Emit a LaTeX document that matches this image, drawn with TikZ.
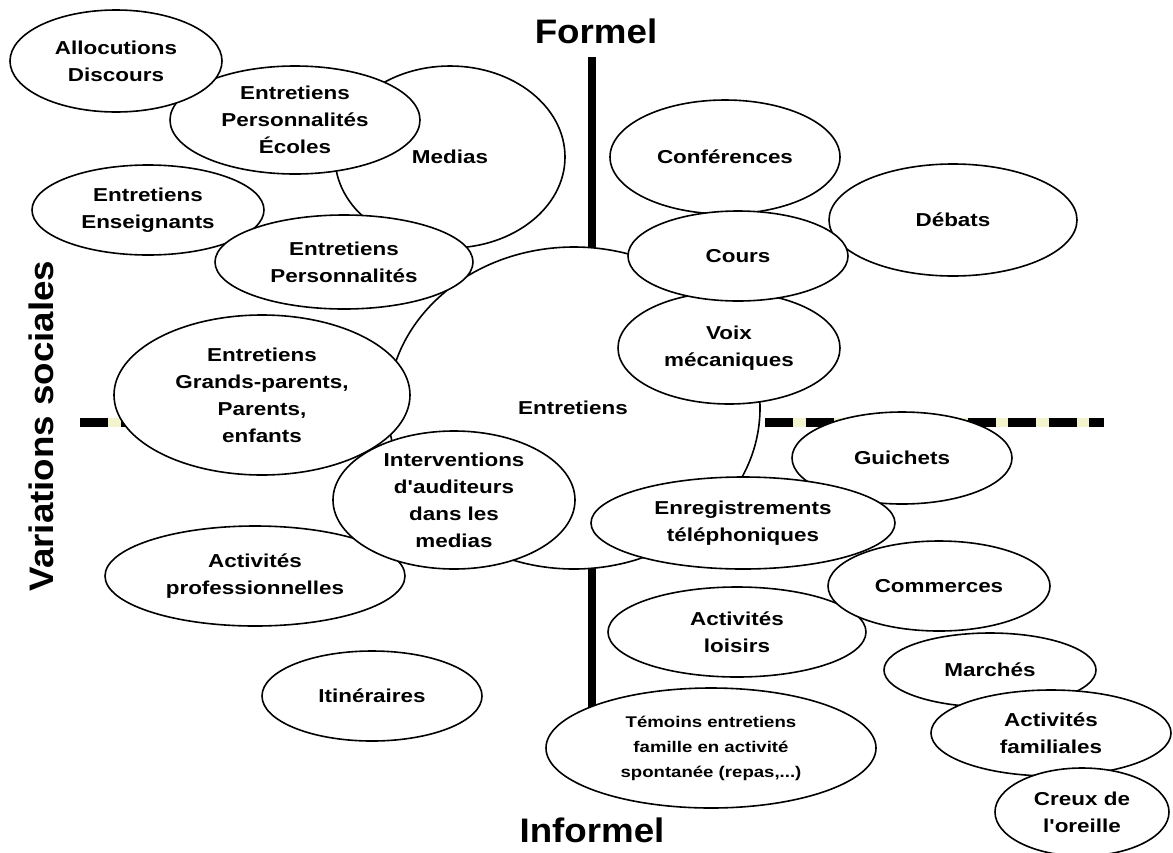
\documentclass[tikz,border=0pt]{standalone}
\usepackage{fontspec}
\setmainfont{Liberation Sans}[FakeStretch=1.2, Ligatures=TeXOff]
\newfontfamily\titlefont{Liberation Sans}[FakeStretch=1.08]
\usetikzlibrary{shapes.geometric}
\definecolor{paleyellow}{RGB}{243,243,205}
\newcommand\txtfont{\fontsize{18.7}{27}\selectfont\bfseries}
\newcommand\smalltxtfont{\fontsize{15.5}{25}\selectfont\bfseries}
\tikzset{
  ell/.style={ellipse, draw=black, line width=1.6pt, fill=white, inner sep=0pt},
  txt/.style={align=center, font=\txtfont, inner sep=0pt},
  smalltxt/.style={align=center, font=\smalltxtfont, inner sep=0pt},
  title/.style={font=\titlefont\fontsize{34}{40}\selectfont\bfseries, inner sep=0pt},
  axisline/.style={line width=8pt},
  dashbg/.style={line width=9pt, draw=paleyellow},
  dashfg/.style={line width=9pt, dash pattern=on 28pt off 12.5pt},
}
\newcommand\blob[6]{%
  \node[ell, minimum width={2*#4}, minimum height={2*#5}] (#1) at (#2,#3) {};
  \node[txt] (#1-t) at (#1.center) {#6};}
\begin{document}
\begin{tikzpicture}[x=1pt, y=-1pt]
\useasboundingbox (0,0) rectangle (1173,852);

% axes
\coordinate (dl1) at (80,422);
\coordinate (dl2) at (130,422);
\coordinate (dr1) at (765,422);
\coordinate (dr2) at (1104,422);
\draw[dashbg] (dl1) -- (dl2);
\draw[dashfg] (dl1) -- (dl2);
\draw[dashbg] (dr1) -- (dr2);
\draw[dashfg] (dr1) -- (dr2);
\coordinate (vt1) at (592,57);
\coordinate (vt2) at (592,270);
\coordinate (vb1) at (592,550);
\coordinate (vb2) at (592,715);
\draw[axisline] (vt1) -- (vt2);
\draw[axisline] (vb1) -- (vb2);

% ellipses (bottom to top)
\blob{medias}{450}{157}{115}{91}{Medias}
\node[ell, minimum width=372, minimum height=322] (ent) at (574,408) {};
\node[txt] (ent-t) at (573,408) {Entretiens};
\blob{conf}{725}{157}{115}{57}{Conférences}
\blob{debats}{953}{220}{124}{56}{Débats}
\blob{voix}{729}{348}{111}{56}{Voix\\mécaniques}
\blob{cours}{738}{256}{110}{45}{Cours}
\blob{epe}{295}{120}{125}{54}{Entretiens\\Personnalités\\Écoles}
\blob{alloc}{116}{61}{106}{51}{Allocutions\\Discours}
\blob{ens}{148}{210}{116}{45}{Entretiens\\Enseignants}
\blob{ep}{344}{262}{129}{47}{Entretiens\\Personnalités}
\blob{gp}{262}{395}{148}{80}{Entretiens\\Grands-parents,\\Parents,\\enfants}
\blob{aprof}{255}{576}{150}{50}{Activités\\professionnelles}
\blob{inter}{454}{500}{121}{69}{Interventions\\d'auditeurs\\dans les\\medias}
\blob{guichets}{902}{458}{110}{46}{Guichets}
\blob{enreg}{743}{523}{152}{46}{Enregistrements\\téléphoniques}
\blob{loisirs}{737}{632}{129}{45}{Activités\\loisirs}
\blob{commerces}{939}{586}{111}{45}{Commerces}
\node[ell, minimum width=330, minimum height=120] (temoins) at (711,748) {};
\node[smalltxt] (temoins-t) at (temoins.center) {Témoins entretiens\\famille en activité\\spontanée (repas,...)};
\blob{marches}{990}{670}{106}{37}{Marchés}
\blob{familiales}{1051}{733}{120}{43}{Activités\\familiales}
\blob{creux}{1082}{812}{87}{44}{Creux de\\l'oreille}
\blob{itin}{372}{696}{110}{45}{Itinéraires}

% titles
\node[title] (formel) at (596,31) {Formel};
\node[title] (informel) at (592,830) {Informel};
\node[title, rotate=90] (varsoc) at (41,426) {Variations sociales};
\end{tikzpicture}
\end{document}
